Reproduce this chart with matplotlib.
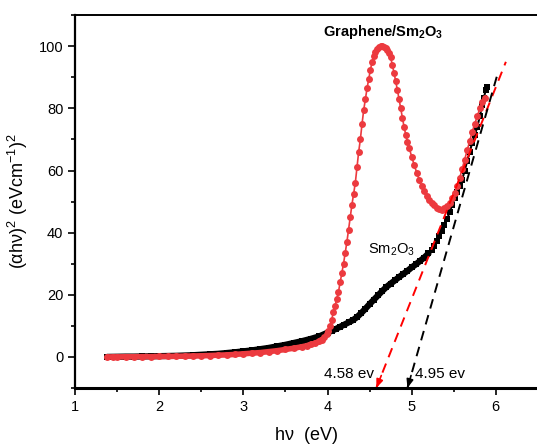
#!/usr/bin/env python3

import matplotlib
matplotlib.use("Agg")
import matplotlib.pyplot as plt
from matplotlib.ticker import MultipleLocator

plt.rcParams["font.family"] = ["Liberation Sans", "DejaVu Sans"]
plt.rcParams["mathtext.default"] = "regular"

# Sm2O3 (black squares)
sm_x = [1.38, 1.5, 1.6, 1.7, 1.8, 1.9, 2.0, 2.1, 2.2, 2.3, 2.4, 2.5, 2.6, 2.7,
        2.8, 2.9, 3.0, 3.1, 3.2, 3.3, 3.4, 3.5, 3.6, 3.7, 3.8, 3.9, 4.0, 4.05,
        4.1, 4.15, 4.2, 4.25, 4.3, 4.35, 4.4, 4.45, 4.5, 4.55, 4.6, 4.65, 4.7,
        4.75, 4.8, 4.85, 4.9, 4.95, 5.0, 5.05, 5.1, 5.15, 5.2, 5.24, 5.27, 5.3,
        5.33, 5.36, 5.39, 5.42, 5.45, 5.48, 5.51, 5.54, 5.57, 5.6, 5.63, 5.66,
        5.69, 5.72, 5.75, 5.78, 5.81, 5.84, 5.86, 5.88, 5.89]
sm_y = [0.0, 0.05, 0.1, 0.1, 0.15, 0.2, 0.25, 0.3, 0.35, 0.45, 0.55, 0.7, 0.85,
        1.0, 1.25, 1.5, 1.8, 2.1, 2.5, 2.9, 3.4, 3.9, 4.5, 5.1, 5.8, 6.6, 7.8,
        8.4, 9.0, 9.7, 10.4, 11.1, 11.8, 12.8, 14.1, 15.5, 17.0, 18.4, 19.8,
        21.2, 22.5, 23.6, 24.6, 25.7, 26.7, 27.7, 28.8, 29.8, 30.9, 32.0, 33.3,
        34.5, 35.8, 37.2, 38.8, 40.6, 42.5, 44.3, 46.5, 48.8, 51.0, 53.0, 55.0,
        57.0, 60.0, 63.0, 66.0, 69.0, 71.5, 74.0, 77.5, 81.0, 83.5, 86.0, 87.0]

# Graphene/Sm2O3 (red circles)
gr_x = [1.38, 1.45, 1.5, 1.6, 1.7, 1.8, 1.9, 2.0, 2.1, 2.2, 2.3, 2.4, 2.5, 2.6,
        2.7, 2.8, 2.9, 3.0, 3.1, 3.2, 3.3, 3.4, 3.5, 3.6, 3.7, 3.75, 3.8, 3.85,
        3.9, 3.93, 3.96, 3.99, 4.01, 4.03, 4.05, 4.07, 4.09, 4.11, 4.13, 4.15,
        4.17, 4.19, 4.21, 4.23, 4.25, 4.27, 4.29, 4.31, 4.33, 4.35, 4.37, 4.39,
        4.41, 4.43, 4.45, 4.47, 4.49, 4.51, 4.53, 4.55, 4.57, 4.59, 4.61, 4.63,
        4.65, 4.67, 4.69, 4.71, 4.73, 4.75, 4.77, 4.79, 4.81, 4.83, 4.85, 4.87,
        4.89, 4.91, 4.93, 4.95, 4.97, 5.0, 5.03, 5.06, 5.09, 5.12, 5.15, 5.18,
        5.21, 5.24, 5.27, 5.3, 5.33, 5.36, 5.39, 5.42, 5.45, 5.48, 5.51, 5.54,
        5.57, 5.6, 5.63, 5.66, 5.69, 5.72, 5.75, 5.78, 5.81, 5.84, 5.87]
gr_y = [0.0, 0.0, 0.0, 0.05, 0.05, 0.1, 0.1, 0.15, 0.15, 0.2, 0.25, 0.3, 0.35,
        0.45, 0.55, 0.65, 0.8, 1.0, 1.2, 1.4, 1.7, 2.0, 2.4, 2.8, 3.3, 3.6, 4.0,
        4.4, 5.0, 5.6, 6.4, 7.5, 8.4, 10.0, 12.0, 14.5, 16.5, 18.7, 21.0, 24.0,
        27.0, 30.0, 33.5, 37.0, 41.0, 45.0, 49.0, 52.5, 56.0, 61.0, 66.0, 70.0,
        75.0, 79.5, 83.0, 86.5, 89.5, 92.5, 95.0, 96.8, 98.2, 99.2, 99.8, 100.0,
        100.0, 99.7, 99.3, 98.8, 98.0, 96.5, 94.0, 91.5, 88.8, 86.0, 83.0, 80.0,
        77.0, 74.0, 71.5, 69.3, 67.3, 64.5, 61.8, 59.3, 57.0, 55.0, 53.3, 51.8,
        50.6, 49.6, 48.8, 48.1, 47.6, 47.4, 47.8, 48.6, 49.6, 51.0, 52.8, 55.0,
        57.5, 60.5, 63.5, 66.5, 69.5, 72.5, 75.0, 77.5, 80.0, 82.0, 83.5]

# tangent (Tauc) lines: x, y end points
gr_fit_x = [4.58, 6.12]
gr_fit_y = [-10, 95]
sm_fit_x = [4.95, 6.02]
sm_fit_y = [-10, 91]


def main():
    fig = plt.figure(figsize=(5.37, 4.48), dpi=100)
    ax = fig.add_axes([0.14, 0.134, 0.86, 0.832])

    ax.plot(sm_x[:51], sm_y[:51], color="black", lw=4.5, solid_capstyle="round")
    ax.plot(sm_x, sm_y, color="black", marker="s", markersize=4, lw=1.5,
            markeredgewidth=0)
    ax.plot(gr_x, gr_y, color="#ec3a3f", marker="o", markersize=5, lw=1.2,
            markeredgewidth=0)
    # flat part of red curve drawn thick like the dense markers
    ax.plot(gr_x[:30], gr_y[:30], color="#ec3a3f", lw=4,
            solid_capstyle="round")

    ax.plot(gr_fit_x, gr_fit_y, color="red", ls=(0, (5, 3.5)), lw=1.4)
    ax.plot(sm_fit_x, sm_fit_y, color="black", ls=(0, (5, 3.5)), lw=1.4)

    # arrow heads at the intercepts
    for fx, fy, c in [(gr_fit_x, gr_fit_y, "red"), (sm_fit_x, sm_fit_y, "black")]:
        slope = (fx[1] - fx[0]) / (fy[1] - fy[0])
        ax.annotate("", xy=(fx[0], fy[0]), xytext=(fx[0] + 4 * slope, fy[0] + 4),
                    arrowprops=dict(arrowstyle="-|>,head_length=0.5,head_width=0.2",
                                    color=c, lw=1.2, shrinkA=0, shrinkB=0))

    ax.text(4.55, -5.5, "4.58 ev", ha="right", va="center", fontsize=11)
    ax.text(5.04, -5.5, "4.95 ev", ha="left", va="center", fontsize=11)
    ax.text(4.76, 34.5, "Sm$_2$O$_3$", ha="center", va="center", fontsize=10.5)
    ax.text(4.66, 104.5, "Graphene/Sm$_2$O$_3$", ha="center", va="center",
            fontsize=10.5, fontweight="bold")

    ax.set_xlim(1, 6.49)
    ax.set_ylim(-10, 110)
    ax.xaxis.set_major_locator(MultipleLocator(1))
    ax.xaxis.set_minor_locator(MultipleLocator(0.5))
    ax.yaxis.set_major_locator(MultipleLocator(20))
    ax.yaxis.set_minor_locator(MultipleLocator(10))
    ax.tick_params(which="both", direction="out", labelsize=10.5, width=1.2)
    ax.tick_params(which="major", length=5)
    ax.tick_params(which="minor", length=3)

    ax.spines["left"].set_linewidth(1.6)
    ax.spines["bottom"].set_linewidth(2.2)
    ax.spines["top"].set_linewidth(1.4)
    ax.spines["right"].set_visible(False)

    ax.set_xlabel(r"h$\nu$  (eV)", fontsize=13, labelpad=8)
    ax.set_ylabel(r"($\alpha$h$\nu$)$^2$ (eVcm$^{-1}$)$^2$", fontsize=13,
                  labelpad=6)

    fig.savefig("out.png", dpi=100)


if __name__ == "__main__":
    main()
